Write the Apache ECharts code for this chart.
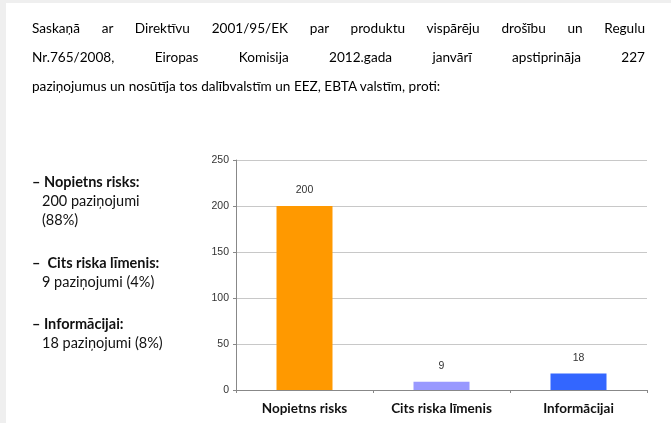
<!DOCTYPE html>
<html>
<head>
<meta charset="utf-8">
<script src="https://cdn.jsdelivr.net/npm/echarts@6/dist/echarts.min.js"></script>
<style>
  html, body { margin: 0; padding: 0; background: #efefef; }
  .page { position: absolute; left: 6px; top: 3px; width: 665px; height: 420px; background: #fff; }
  .intro { position: absolute; left: 32px; top: 14px; width: 613px;
    font-family: Lato, "Liberation Sans", sans-serif;
    font-size: 13.6px; color: #000; line-height: 29px; }
  .intro div { text-align: justify; text-align-last: justify; white-space: nowrap; }
  .intro div.last { text-align: left; text-align-last: left; }
  #chart { position: absolute; left: 0; top: 0; width: 671px; height: 423px; }
</style>
</head>
<body>
<div class="page"></div>
<div id="chart"></div>
<div class="intro">
  <div>Saskaņā ar Direktīvu 2001/95/EK par produktu vispārēju drošību un Regulu</div>
  <div>Nr.765/2008, Eiropas Komisija 2012.gada janvārī apstiprināja 227</div>
  <div class="last">paziņojumus un nosūtīja tos dalībvalstīm un EEZ, EBTA valstīm, proti:</div>
</div>
<script>
  var categories = ['Nopietns risks', 'Cits riska līmenis', 'Informācijai']
  var values = [200, 9, 18]
  var barColors = ['#FF9900', '#9999FF', '#3366FF']
  var notes = [
    ['– Nopietns risks:', '200 paziņojumi', '(88%)'],
    ['–  Cits riska līmenis:', '9 paziņojumi (4%)'],
    ['– Informācijai:', '18 paziņojumi (8%)']
  ]
  var noteTops = [175, 256, 317]

  var charts = echarts.init(document.getElementById('chart'))

  var graphics = []
  notes.forEach(function (n, i) {
    n.forEach(function (line, j) {
      graphics.push({
        type: 'text',
        left: j === 0 ? 32 : 42,
        top: noteTops[i] + j * 19,
        style: {
          text: line,
          font: (j === 0 ? 'bold ' : '') + '14.5px Lato, "Liberation Sans", sans-serif',
          fill: '#111'
        }
      })
    })
  })

  const options = {
    animation: false,
    grid: { left: 236, right: 24, top: 160, bottom: 33 },
    xAxis: {
      type: 'category',
      data: categories,
      axisLine: { lineStyle: { color: '#888' } },
      axisTick: { show: true, length: 3, lineStyle: { color: '#888' } },
      axisLabel: {
        interval: 0,
        color: '#111',
        fontWeight: 'bold',
        fontSize: 13.5,
        fontFamily: 'Lato, "Liberation Sans", sans-serif',
        margin: 12
      }
    },
    yAxis: {
      type: 'value',
      min: 0,
      max: 250,
      interval: 50,
      axisLine: { show: true, lineStyle: { color: '#888' } },
      axisTick: { show: true, length: 3, lineStyle: { color: '#888' } },
      axisLabel: {
        color: '#333',
        fontSize: 10.5,
        fontFamily: '"Liberation Sans", sans-serif',
        margin: 7
      },
      splitLine: { lineStyle: { color: '#c8c8c8' } }
    },
    graphic: graphics,
    series: [{
      type: 'bar',
      data: values.map(function (v, i) {
        return { value: v, itemStyle: { color: barColors[i] } }
      }),
      barWidth: 56,
      label: {
        show: true,
        position: 'top',
        distance: 10,
        color: '#333',
        fontSize: 10.5,
        fontFamily: '"Liberation Sans", sans-serif'
      }
    }]
  }
  charts.setOption(options, true)
</script>
</body>
</html>
